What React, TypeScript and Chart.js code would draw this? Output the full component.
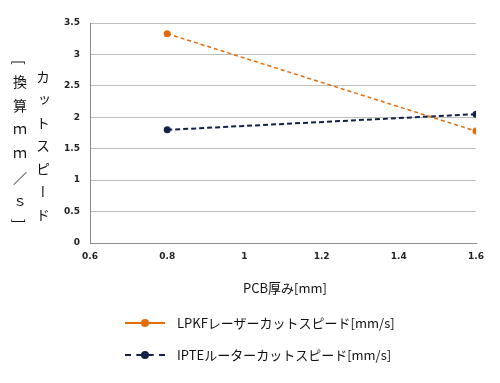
import React, { useEffect, useRef } from "react";
import { Chart, registerables } from "chart.js";

Chart.register(...registerables);

const thickness = [0.8, 1.6];
const lpkfSpeed = [3.33, 1.78];
const ipteSpeed = [1.8, 2.05];
const xTicks = [0.6, 0.8, 1, 1.2, 1.4, 1.6];
const yTicks = [0, 0.5, 1, 1.5, 2, 2.5, 3, 3.5];
const seriesNames = ["LPKFレーザーカットスピード[mm/s]", "IPTEルーターカットスピード[mm/s]"];
const xTitle = "PCB厚み[mm]";
const yTitle1 = "カットスピード";
const yTitle2 = "[換算ｍｍ／ｓ]";

const ORANGE = "#E36C09";
const NAVY = "#14224A";
const JP = "'Noto Sans CJK JP', 'Noto Sans', sans-serif";
const fmt = (v: any) => String(Number(Number(v).toFixed(2)));

export default function App() {
  const ref = useRef<HTMLCanvasElement>(null);
  useEffect(() => {
    document.body.style.margin = "0";
    const ctx = ref.current!.getContext("2d")!;
    const chart = new Chart(ctx, {
      type: "line",
      data: {
        datasets: [
          {
            label: seriesNames[0],
            data: thickness.map((x, i) => ({ x, y: lpkfSpeed[i] })),
            borderColor: ORANGE,
            backgroundColor: ORANGE,
            borderWidth: 1.5,
            borderDash: [4, 3],
            pointRadius: 3.5,
            pointBorderWidth: 0,
          },
          {
            label: seriesNames[1],
            data: thickness.map((x, i) => ({ x, y: ipteSpeed[i] })),
            borderColor: NAVY,
            backgroundColor: NAVY,
            borderWidth: 2,
            borderDash: [5, 3],
            pointRadius: 3.5,
            pointBorderWidth: 0,
          },
        ],
      },
      options: {
        animation: false,
        responsive: false,
        layout: { padding: { left: 60, right: 24, top: 23, bottom: 120 } },
        plugins: { legend: { display: false }, tooltip: { enabled: false } },
        scales: {
          x: {
            type: "linear",
            min: 0.6,
            max: 1.6,
            afterBuildTicks: (s: any) => {
              s.ticks = xTicks.map((v) => ({ value: v }));
            },
            afterFit: (s: any) => {
              s.height = 20;
            },
            grid: { display: false, drawTicks: false },
            border: { color: "#8c8c8c", width: 1 },
            ticks: {
              padding: 8,
              color: "#222",
              autoSkip: false,
              maxRotation: 0,
              callback: fmt,
              font: { family: "'DejaVu Sans', sans-serif", size: 9, weight: "bold" },
            },
          },
          y: {
            min: 0,
            max: 3.5,
            afterBuildTicks: (s: any) => {
              s.ticks = yTicks.map((v) => ({ value: v }));
            },
            afterFit: (s: any) => {
              s.width = 30;
            },
            grid: { color: "#bdbdbd", drawTicks: false, lineWidth: 1 },
            border: { color: "#8c8c8c", width: 1 },
            ticks: {
              padding: 10,
              color: "#222",
              callback: fmt,
              font: { family: "'DejaVu Sans', sans-serif", size: 9, weight: "bold" },
            },
          },
        },
      },
    } as any);
    return () => chart.destroy();
  }, []);

  const vert: React.CSSProperties = {
    position: "absolute",
    writingMode: "vertical-rl",
    fontFamily: JP,
    fontSize: 14,
    color: "#111",
    lineHeight: "16px",
    whiteSpace: "nowrap",
  };

  const legendRow = (top: number, color: string, dashed: boolean, text: string) => (
    <div style={{ position: "absolute", left: 0, top, width: 500, height: 20 }}>
      <div
        style={{
          position: "absolute",
          left: 125,
          top: 9,
          width: 40,
          borderTop: `2px ${dashed ? "dashed" : "solid"} ${color}`,
        }}
      />
      <div
        style={{
          position: "absolute",
          left: 141,
          top: 6,
          width: 8,
          height: 8,
          borderRadius: 4,
          background: color,
        }}
      />
      <div
        style={{
          position: "absolute",
          left: 177,
          top: 0,
          fontFamily: JP,
          fontSize: 13,
          lineHeight: "20px",
          color: "#111",
          whiteSpace: "nowrap",
        }}
      >
        {text}
      </div>
    </div>
  );

  return (
    <div style={{ position: "relative", width: 500, height: 383, background: "#fff", overflow: "hidden" }}>
      <canvas ref={ref} width={500} height={383} style={{ position: "absolute", left: 0, top: 0 }} />
      <div style={{ ...vert, left: 35, top: 70, letterSpacing: 9 }}>{yTitle1}</div>
      <div style={{ ...vert, left: 12, top: 60, letterSpacing: 10 }}>{yTitle2}</div>
      <div
        style={{
          position: "absolute",
          left: 0,
          width: 500,
          paddingLeft: 70,
          boxSizing: "border-box",
          top: 278,
          textAlign: "center",
          fontFamily: JP,
          fontSize: 13,
          color: "#111",
        }}
      >
        {xTitle}
      </div>
      {legendRow(313, ORANGE, false, seriesNames[0])}
      {legendRow(345, NAVY, true, seriesNames[1])}
    </div>
  );
}
